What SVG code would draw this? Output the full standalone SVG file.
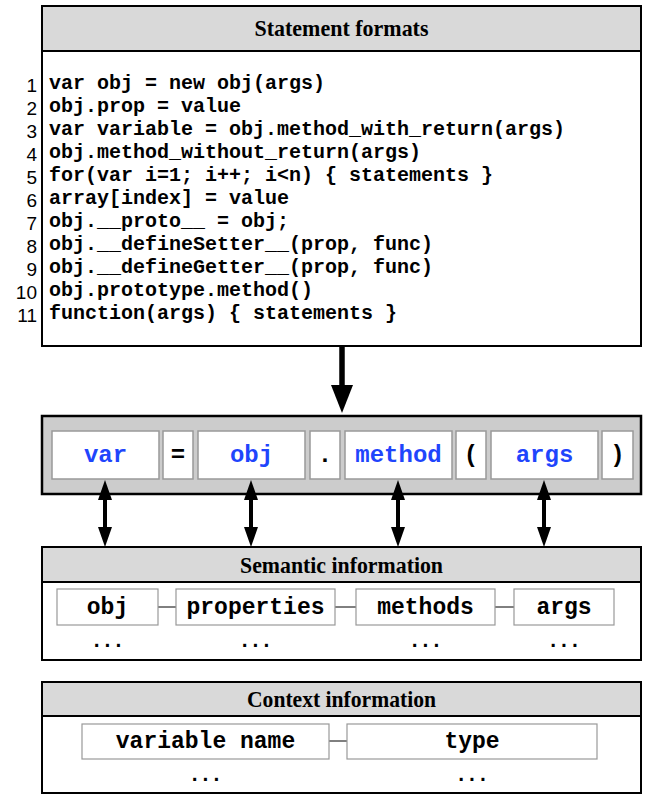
<svg xmlns="http://www.w3.org/2000/svg" width="647" height="794" viewBox="0 0 647 794">
<style>
.frame{fill:#ffffff;stroke:#000;stroke-width:2}
.hdr{fill:#d9d9d9;stroke:#000;stroke-width:2}
.title{font-family:"Liberation Serif","Times New Roman",serif;font-weight:bold;font-size:24px;text-anchor:middle;fill:#000}
.num{font-family:"Liberation Sans",Arial,sans-serif;font-size:19px;text-anchor:end;fill:#000}
.code{font-family:"Liberation Mono","Courier New",monospace;font-weight:bold;font-size:20px;fill:#000;white-space:pre}
.tok{fill:#fff;stroke:#999;stroke-width:1.5}
.tt{font-family:"Liberation Mono","Courier New",monospace;font-weight:bold;font-size:24px;text-anchor:middle}
.blue{fill:#1f45fc}
.blk{fill:#000}
.ibox{fill:#fff;stroke:#999;stroke-width:1.2}
.it{font-family:"Liberation Mono","Courier New",monospace;font-weight:bold;font-size:23px;text-anchor:middle;fill:#000}
.dots{font-family:"DejaVu Sans Mono","Liberation Mono",monospace;font-weight:bold;font-size:18px;text-anchor:middle;fill:#000}
.link{stroke:#000;stroke-width:1}
.shaft{stroke:#000;stroke-width:4}
</style>

<g id="statement-formats">
  <rect class="frame" x="42" y="6" width="599" height="340"/>
  <rect class="hdr" x="42" y="6" width="599" height="45"/>
  <text class="title" x="341.5" y="36" textLength="174" lengthAdjust="spacingAndGlyphs">Statement formats</text>
  <g class="num">
    <text x="37" y="92">1</text>
    <text x="37" y="115">2</text>
    <text x="37" y="138">3</text>
    <text x="37" y="161">4</text>
    <text x="37" y="184">5</text>
    <text x="37" y="207">6</text>
    <text x="37" y="230">7</text>
    <text x="37" y="253">8</text>
    <text x="37" y="276">9</text>
    <text x="37" y="299">10</text>
    <text x="37" y="322">11</text>
  </g>
  <g class="code">
    <text x="49" y="89">var obj = new obj(args)</text>
    <text x="49" y="112">obj.prop = value</text>
    <text x="49" y="135">var variable = obj.method_with_return(args)</text>
    <text x="49" y="158">obj.method_without_return(args)</text>
    <text x="49" y="181">for(var i=1; i++; i&lt;n) { statements }</text>
    <text x="49" y="204">array[index] = value</text>
    <text x="49" y="227">obj.__proto__ = obj;</text>
    <text x="49" y="250">obj.__defineSetter__(prop, func)</text>
    <text x="49" y="273">obj.__defineGetter__(prop, func)</text>
    <text x="49" y="296">obj.prototype.method()</text>
    <text x="49" y="319">function(args) { statements }</text>
  </g>
</g>

<g id="statement-tokens">
  <rect x="42" y="416" width="599" height="78" fill="#cccccc" stroke="#000" stroke-width="2.5"/>
  <rect class="tok" x="52" y="431" width="107" height="48"/>
  <rect class="tok" x="163" y="431" width="30" height="48"/>
  <rect class="tok" x="198" y="431" width="107" height="48"/>
  <rect class="tok" x="310" y="431" width="30" height="48"/>
  <rect class="tok" x="345" y="431" width="107" height="48"/>
  <rect class="tok" x="456" y="431" width="30" height="48"/>
  <rect class="tok" x="491" y="431" width="107" height="48"/>
  <rect class="tok" x="602" y="431" width="31" height="48"/>
  <text class="tt blue" x="105.5" y="462">var</text>
  <text class="tt blk" x="178" y="462">=</text>
  <text class="tt blue" x="251.5" y="462">obj</text>
  <text class="tt blk" x="325" y="462">.</text>
  <text class="tt blue" x="398.5" y="462">method</text>
  <text class="tt blk" x="471" y="462">(</text>
  <text class="tt blue" x="544.5" y="462">args</text>
  <text class="tt blk" x="617.5" y="462">)</text>
</g>

<g id="semantic-information">
  <rect class="frame" x="42" y="547" width="599" height="113"/>
  <rect class="hdr" x="42" y="547" width="599" height="35"/>
  <text class="title" x="341.5" y="573" textLength="203" lengthAdjust="spacingAndGlyphs">Semantic information</text>
  <line class="link" x1="158" y1="607" x2="176" y2="607"/>
  <line class="link" x1="335" y1="607" x2="356" y2="607"/>
  <line class="link" x1="495" y1="607" x2="514" y2="607"/>
  <rect class="ibox" x="57" y="589" width="101" height="36"/>
  <rect class="ibox" x="176" y="589" width="159" height="36"/>
  <rect class="ibox" x="356" y="589" width="139" height="36"/>
  <rect class="ibox" x="514" y="589" width="100" height="36"/>
  <text class="it" x="107.5" y="614">obj</text>
  <text class="it" x="255.5" y="614">properties</text>
  <text class="it" x="425.5" y="614">methods</text>
  <text class="it" x="564" y="614">args</text>
  <text class="dots" x="107.5" y="647">...</text>
  <text class="dots" x="255.5" y="647">...</text>
  <text class="dots" x="425.5" y="647">...</text>
  <text class="dots" x="564" y="647">...</text>
</g>

<g id="context-information">
  <rect class="frame" x="42" y="682" width="599" height="111"/>
  <rect class="hdr" x="42" y="682" width="599" height="34"/>
  <text class="title" x="341.5" y="707" textLength="189" lengthAdjust="spacingAndGlyphs">Context information</text>
  <line class="link" x1="329" y1="741" x2="347" y2="741"/>
  <rect class="ibox" x="82" y="724" width="247" height="35"/>
  <rect class="ibox" x="347" y="724" width="250" height="35"/>
  <text class="it" x="205.5" y="748">variable name</text>
  <text class="it" x="472" y="748">type</text>
  <text class="dots" x="205.5" y="781">...</text>
  <text class="dots" x="472" y="781">...</text>
</g>

<g id="connectors">
  <line x1="342" y1="347" x2="342" y2="387" stroke="#000" stroke-width="5.5"/>
  <polygon points="331,385 353,385 342,413" fill="#000"/>
  <g>
    <line class="shaft" x1="105" y1="498" x2="105" y2="528"/>
    <polygon points="98,500 112,500 105,480" fill="#000"/>
    <polygon points="98,527 112,527 105,547" fill="#000"/>
  </g>
  <g>
    <line class="shaft" x1="251" y1="498" x2="251" y2="528"/>
    <polygon points="244,500 258,500 251,480" fill="#000"/>
    <polygon points="244,527 258,527 251,547" fill="#000"/>
  </g>
  <g>
    <line class="shaft" x1="398" y1="498" x2="398" y2="528"/>
    <polygon points="391,500 405,500 398,480" fill="#000"/>
    <polygon points="391,527 405,527 398,547" fill="#000"/>
  </g>
  <g>
    <line class="shaft" x1="544" y1="498" x2="544" y2="528"/>
    <polygon points="537,500 551,500 544,480" fill="#000"/>
    <polygon points="537,527 551,527 544,547" fill="#000"/>
  </g>
</g>
</svg>
